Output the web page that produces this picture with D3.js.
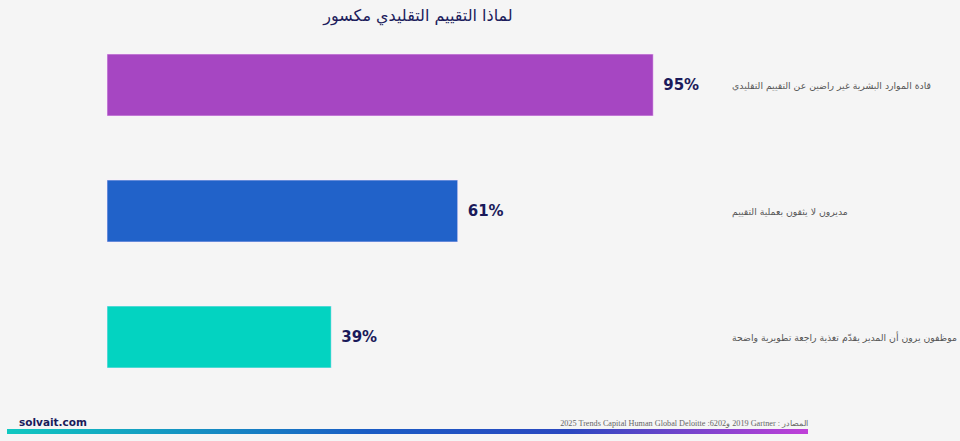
<!DOCTYPE html>
<html><head><meta charset="utf-8">
<script src="https://cdn.jsdelivr.net/npm/d3@7"></script>
<style>
html,body{margin:0;padding:0;background:#f5f5f5;}
svg{display:block;}
</style></head>
<body>
<svg id="chart" width="960" height="441"></svg>
<script>
const title = "لماذا التقييم التقليدي مكسور";
const categories = [
  "قادة الموارد البشرية غير راضين عن التقييم التقليدي",
  "مديرون لا يثقون بعملية التقييم",
  "موظفون يرون أن المدير يقدّم تغذية راجعة تطويرية واضحة"
];
const values = [95, 61, 39];
const valueLabels = ["95%", "61%", "39%"];
const barColors = ["#a646c2", "#2162c9", "#03d3c1"];
const brand = "solvait.com";
// source line, pieces in visual left-to-right order
const sourcePieces = ["2025 Trends Capital Human Global Deloitte :6202", "و", " 2019 Gartner : ", "المصادر"];

const svg = d3.select("#chart");
svg.append("rect").attr("width",960).attr("height",441).attr("fill","#f5f5f5");

const x = d3.scaleLinear().domain([0,100]).range([107,682]);
const y = d3.scaleBand().domain(d3.range(categories.length)).range([22,400])
  .paddingInner(64/126).paddingOuter(32/126);

svg.append("text").attr("x",418).attr("y",21).attr("text-anchor","middle")
  .attr("font-family","DejaVu Sans, sans-serif").attr("font-size",16)
  .attr("fill","#1c1c5c").text(title);

const g = svg.append("g");
g.selectAll("rect.bar").data(values).join("rect").attr("class","bar")
  .attr("x",x(0)).attr("y",(d,i)=>y(i))
  .attr("width",d=>x(d)-x(0)).attr("height",y.bandwidth())
  .attr("fill",(d,i)=>barColors[i])
  .attr("stroke","rgba(255,235,255,0.6)").attr("stroke-width",1);

g.selectAll("text.val").data(values).join("text").attr("class","val")
  .attr("x",d=>x(d)+10).attr("y",(d,i)=>y(i)+y.bandwidth()/2)
  .attr("dy","0.35em")
  .attr("font-family","DejaVu Sans, sans-serif").attr("font-weight","bold")
  .attr("font-size",15).attr("fill","#1a1a5a")
  .text((d,i)=>valueLabels[i]);

g.selectAll("text.cat").data(categories).join("text").attr("class","cat")
  .attr("x",732).attr("y",(d,i)=>y(i)+y.bandwidth()/2)
  .attr("dy","0.4em").attr("text-anchor","start")
  .attr("font-family","DejaVu Sans, sans-serif").attr("font-size",9.3)
  .attr("fill","#555").text(d=>d);

svg.append("text").attr("x",19).attr("y",426)
  .attr("font-family","DejaVu Sans, sans-serif").attr("font-weight","bold")
  .attr("font-size",10.5).attr("fill","#1a1a5a").text(brand);

// source pieces laid out left to right, right edge at 808
const srcG = svg.append("g");
const srcTexts = sourcePieces.map(p => srcG.append("text").attr("y",426)
  .attr("font-family","Liberation Serif, serif").attr("font-size",8.2)
  .attr("fill","#666").style("white-space","pre").attr("xml:space","preserve").text(p));
const widths = srcTexts.map(t => t.node().getComputedTextLength());
let cx = 808 - d3.sum(widths);
srcTexts.forEach((t,i)=>{ t.attr("x",cx); cx += widths[i]; });

const defs = svg.append("defs");
const grad = defs.append("linearGradient").attr("id","footgrad")
  .attr("x1","0%").attr("x2","100%").attr("y1","0%").attr("y2","0%");
[["0%","#10c8c0"],["45%","#1a5cc4"],["70%","#2a48c0"],["100%","#c040d8"]].forEach(s=>
  grad.append("stop").attr("offset",s[0]).attr("stop-color",s[1]));
svg.append("rect").attr("x",7).attr("y",429).attr("width",801).attr("height",5)
  .attr("fill","url(#footgrad)");
</script>
</body></html>
